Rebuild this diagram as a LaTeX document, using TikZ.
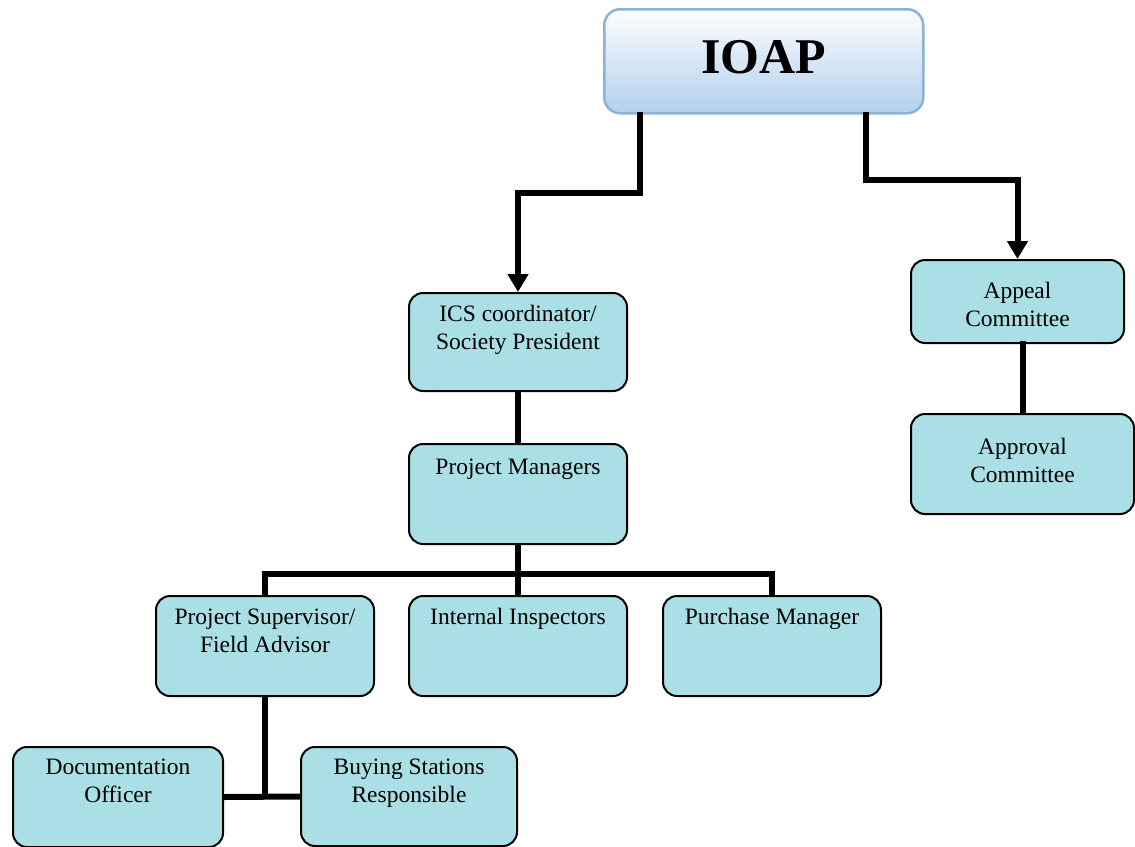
\documentclass[tikz,border=0pt]{standalone}
\usepackage{fontspec}
\setmainfont{Liberation Serif}
\usetikzlibrary{arrows.meta}
\definecolor{boxfill}{RGB}{170,223,229}
\definecolor{ioaptop}{RGB}{252,253,255}
\definecolor{ioapbot}{RGB}{178,208,236}
\definecolor{ioapline}{RGB}{140,178,214}
% text in a box of fixed size, hung from the top
\newcommand{\cell}[4]{\parbox[c][#2pt][t]{#1pt}{\centering\rule{0pt}{#3pt}#4}}
\tikzset{
  box/.style={draw=black, line width=2pt, rounded corners=14pt, fill=boxfill,
    anchor=north west, inner sep=0pt, font=\fontsize{23.5}{28}\selectfont},
  header/.style={draw=ioapline, line width=2.5pt, rounded corners=16pt,
    top color=ioaptop, bottom color=ioapbot, anchor=north west, inner sep=0pt,
    font=\fontsize{50}{56}\selectfont\bfseries},
  link/.style={line width=6pt},
  arrowlink/.style={link, -{Triangle[width=20pt,length=18pt]}}
}
\begin{document}
\begin{tikzpicture}[x=1pt,y=-1pt]
  \useasboundingbox[fill=white] (0,0) rectangle (1135,846);
  %% Boxes
  \node[header] (ioap) at (603,8) {\cell{319}{104}{64}{IOAP}};
  \node[box] (ics) at (408,292) {\cell{218}{98}{28}{ICS coordinator/\\Society President}};
  \node[box] (pm) at (408,443) {\cell{218}{100}{30}{Project Managers}};
  \node[box] (sup) at (155,595) {\cell{218}{100}{28}{Project Supervisor/\\Field Advisor}};
  \node[box] (ins) at (408,595) {\cell{218}{100}{28}{Internal Inspectors}};
  \node[box] (pur) at (662,595) {\cell{218}{100}{28}{Purchase Manager}};
  \node[box] (doc) at (12,746) {\cell{210}{100}{27}{Documentation\\Officer}};
  \node[box] (buy) at (300,746) {\cell{216}{99}{27}{Buying Stations\\Responsible}};
  \node[box] (appeal) at (910,259) {\cell{213}{83}{38}{Appeal\\Committee}};
  \node[box] (approval) at (910,413) {\cell{223}{100}{40}{Approval\\Committee}};
  %% Connectors
  \coordinate (outL) at (640,112);
  \coordinate (outR) at (866,112);
  \draw[arrowlink] (outL) -- ++(0,81) -| (ics.north);
  \draw[arrowlink] (outR) -- ++(0,68) -| (appeal.north);
  \draw[link] ([yshift=3pt]appeal.south -| approval.north) -- (approval.north);
  \draw[link] (ics.south) -- (pm.north);
  \draw[link] (pm.south) -- ++(0,29) coordinate (bus);
  \draw[link] (sup.north) |- (bus) -| (pur.north);
  \draw[link] (bus) -- (ins.north);
  \draw[link] (sup.south) -- (sup.south |- doc.east);
  \draw[link] (doc.east) -- (buy.west);
\end{tikzpicture}
\end{document}
